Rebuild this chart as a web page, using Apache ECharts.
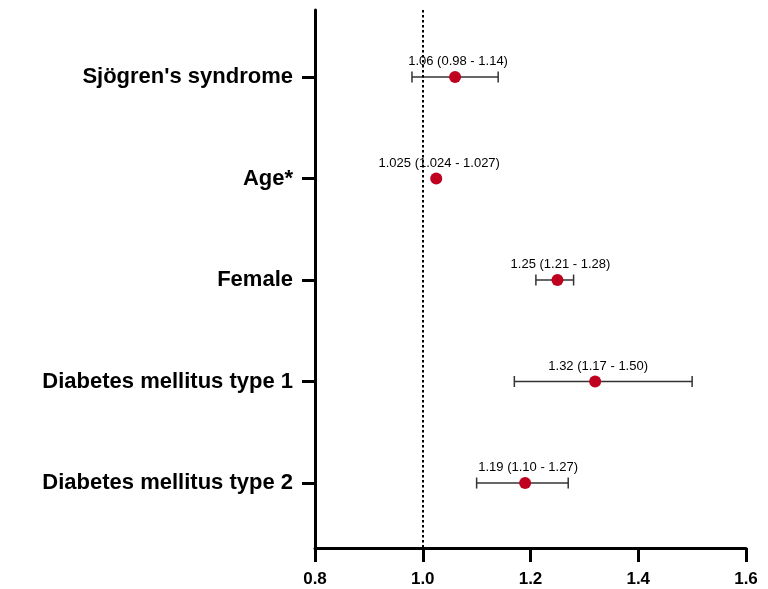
<!DOCTYPE html>
<html><head><meta charset="utf-8">
<script src="https://cdn.jsdelivr.net/npm/echarts@6/dist/echarts.min.js"></script>
<style>html,body{margin:0;padding:0;background:#fff}#c{width:768px;height:589px}</style>
</head><body><div id="c"></div>
<script>
const categories = ["Sjögren's syndrome", "Age*", "Female", "Diabetes mellitus type 1", "Diabetes mellitus type 2"];
const estimates = [1.06, 1.025, 1.25, 1.32, 1.19];
const lowerCI = [0.98, 1.024, 1.21, 1.17, 1.10];
const upperCI = [1.14, 1.027, 1.28, 1.50, 1.27];
const labelTexts = ["1.06 (0.98 - 1.14)", "1.025 (1.024 - 1.027)", "1.25 (1.21 - 1.28)", "1.32 (1.17 - 1.50)", "1.19 (1.10 - 1.27)"];
const xTicks = [0.8, 1.0, 1.2, 1.4, 1.6];
const refValue = 1.0;

const font = 'Liberation Sans, Arial, sans-serif';
const chart = echarts.init(document.getElementById('c'));
const idx = categories.map((_, i) => i);

chart.setOption({
  animation: false,
  grid: { left: 315, right: 22, top: 10, bottom: 41, containLabel: false },
  xAxis: {
    type: 'value', min: 0.8, max: 1.6, interval: 0.2, position: 'bottom',
    splitLine: { show: false },
    axisLine: { onZero: false, lineStyle: { color: '#000', width: 3 } },
    axisTick: { show: true, customValues: xTicks, length: 14, lineStyle: { color: '#000', width: 3 } },
    axisLabel: { color: '#000', fontFamily: font, fontWeight: 'bold', fontSize: 17, margin: 23,
      customValues: xTicks, formatter: v => v.toFixed(1) }
  },
  yAxis: {
    type: 'value', inverse: true, min: -0.66, max: 4.64,
    splitLine: { show: false },
    axisLine: { show: true, onZero: false, lineStyle: { color: '#000', width: 3 } },
    axisTick: { show: true, customValues: idx, length: 13, lineStyle: { color: '#000', width: 3 } },
    axisLabel: { show: true, customValues: idx, color: '#000', fontFamily: font, fontWeight: 'bold', fontSize: 22, margin: 22,
      formatter: v => categories[Math.round(v)] }
  },
  series: [
    {
      type: 'custom',
      data: idx.map(i => [lowerCI[i], upperCI[i], i]),
      encode: { x: [0, 1], y: 2 },
      renderItem: function (params, api) {
        const y = api.value(2);
        const p1 = api.coord([api.value(0), y]);
        const p2 = api.coord([api.value(1), y]);
        const h = 5.5;
        const st = { stroke: '#333', lineWidth: 1.5 };
        return { type: 'group', children: [
          { type: 'line', shape: { x1: p1[0], y1: p1[1], x2: p2[0], y2: p2[1] }, style: st },
          { type: 'line', shape: { x1: p1[0], y1: p1[1] - h, x2: p1[0], y2: p1[1] + h }, style: st },
          { type: 'line', shape: { x1: p2[0], y1: p2[1] - h, x2: p2[0], y2: p2[1] + h }, style: st }
        ]};
      },
      z: 2
    },
    {
      type: 'scatter',
      data: idx.map(i => [estimates[i], i]),
      symbol: 'circle', symbolSize: 12,
      itemStyle: { color: '#c0001f', opacity: 1 },
      label: { show: true, position: 'top', distance: 3, offset: [3, 0], color: '#000', fontFamily: font, fontSize: 13,
        formatter: p => labelTexts[p.dataIndex] },
      markLine: {
        silent: true, symbol: 'none', label: { show: false },
        lineStyle: { color: '#000', type: [2.5, 2.5], width: 2, opacity: 1 },
        data: [{ xAxis: refValue }]
      },
      z: 3
    }
  ]
});
</script></body></html>
